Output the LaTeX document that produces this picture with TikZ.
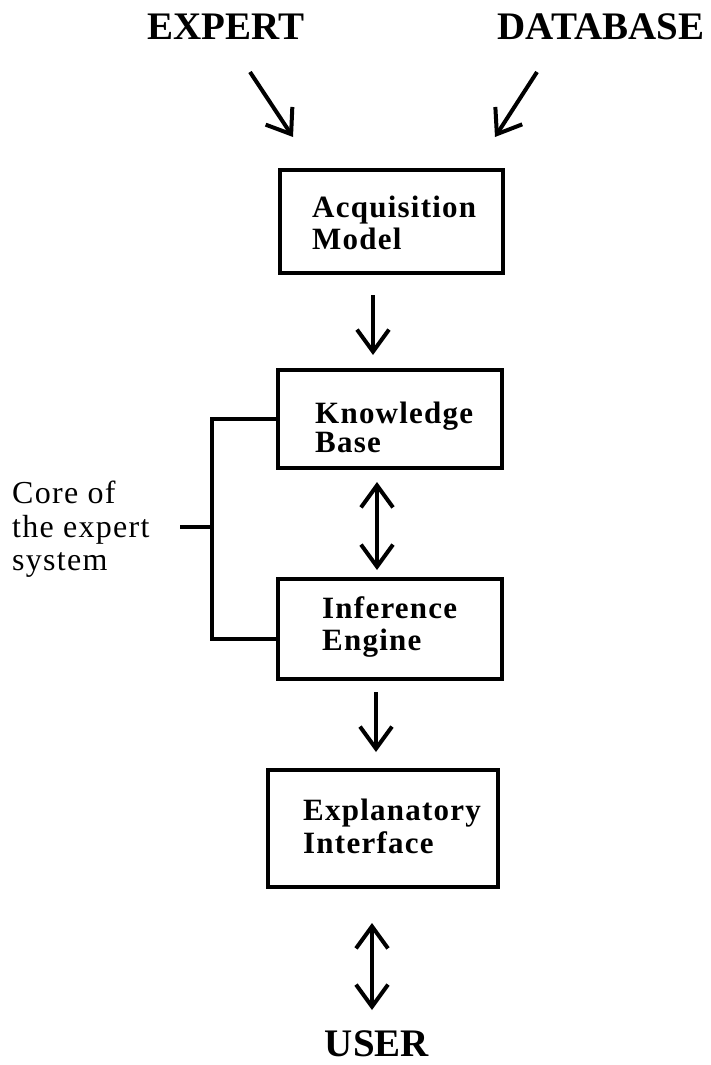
\documentclass[tikz,border=0pt]{standalone}
\usepackage{fontspec}
\setmainfont{Liberation Serif}
\newfontfamily\boxfont[LetterSpace=4]{Liberation Serif}
\newfontfamily\notefont[LetterSpace=4]{Liberation Serif}
\usetikzlibrary{arrows.meta}
\begin{document}
\begin{tikzpicture}[x=1pt,y=-1pt,
  titletext/.style={inner sep=0pt, font=\fontsize{39}{44}\selectfont\bfseries},
  boxtext/.style={inner sep=0pt, anchor=base west, font=\boxfont\fontsize{31}{34}\selectfont\bfseries},
  notetext/.style={inner sep=0pt, anchor=base west, font=\notefont\fontsize{32}{35}\selectfont},
  stage/.style={draw, line width=4pt, inner sep=0pt},
  barb/.tip={Straight Barb[length=22pt,width=32pt]},
  flow/.style={line width=4pt, -barb},
  twoway/.style={line width=4pt, barb-barb},
  bracket/.style={line width=3.5pt}]
\useasboundingbox (0,0) rectangle (710,1065);

% sources
\node[titletext, anchor=base] (expert) at (226,40) {EXPERT};
\node[titletext, anchor=base] (database) at (601,40) {DATABASE};
\coordinate (expertA) at (250,72);
\coordinate (expertB) at (293,137);
\coordinate (dbA) at (537,72);
\coordinate (dbB) at (495,137);
\draw[flow] (expertA) -- (expertB);
\draw[flow] (dbA) -- (dbB);

% stages
\node[stage, minimum width=223pt, minimum height=103pt] (acq) at (391.5,221.5) {};
\node[boxtext] (acq1) at (312,217) {Acquisition};
\node[boxtext] (acq2) at (312,249) {Model};

\node[stage, minimum width=224pt, minimum height=98pt] (kb) at (390,419) {};
\node[boxtext] (kb1) at (315,423) {Knowledge};
\node[boxtext] (kb2) at (315,452) {Base};

\node[stage, minimum width=224pt, minimum height=100pt] (ie) at (390,629) {};
\node[boxtext] (ie1) at (322,618) {Inference};
\node[boxtext] (ie2) at (322,650) {Engine};

\node[stage, minimum width=230pt, minimum height=117pt] (ei) at (383,828.5) {};
\node[boxtext] (ei1) at (303,820) {Explanatory};
\node[boxtext] (ei2) at (303,853) {Interface};

\node[titletext, anchor=base] (user) at (377,1056) {USER};

% flow between stages
\coordinate (a1) at (373,295);
\coordinate (a2) at (373,355);
\draw[flow] (a1) -- (a2);
\coordinate (b1) at (377,482);
\coordinate (b2) at (377,570);
\draw[twoway] (b1) -- (b2);
\coordinate (c1) at (376,692);
\coordinate (c2) at (376,752);
\draw[flow] (c1) -- (c2);
\coordinate (d1) at (372,923);
\coordinate (d2) at (372,1010);
\draw[twoway] (d1) -- (d2);

% core bracket
\node[notetext] (core1) at (12,503) {Core of};
\node[notetext] (core2) at (12,537) {the expert};
\node[notetext] (core3) at (12,570) {system};
\coordinate (bk) at (212,419);
\coordinate (bi) at (212,639);
\coordinate (bm) at (212,527);
\coordinate (tick) at (180,527);
\draw[bracket, line join=miter] (kb.west |- bk) -- (bk) -- (bi) -- (ie.west |- bi);
\draw[bracket] (tick) -- (bm);
\end{tikzpicture}
\end{document}
